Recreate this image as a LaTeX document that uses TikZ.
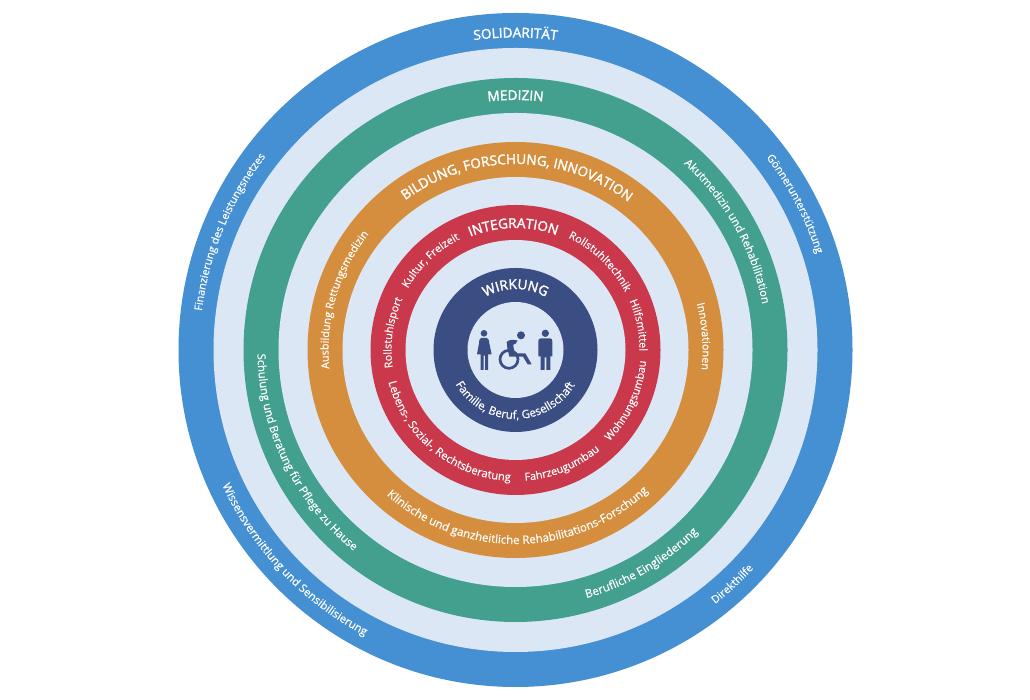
\documentclass[tikz,border=0pt]{standalone}
\usepackage{fontspec}
\setmainfont[FakeBold=0.35]{Open Sans}
\newfontfamily\capfam[FakeBold=2]{Open Sans}
\usetikzlibrary{decorations.text}
\definecolor{ringblue}{HTML}{458FD3}
\definecolor{ringlight}{HTML}{DCE7F6}
\definecolor{ringgreen}{HTML}{43A08F}
\definecolor{ringorange}{HTML}{D48E3E}
\definecolor{ringred}{HTML}{C9394B}
\definecolor{ringnavy}{HTML}{3A4E83}
\newcommand{\smallfont}{\fontsize{10.8}{12}\selectfont}
\newcommand{\widefont}{\fontsize{11.2}{12}\selectfont}
\newcommand{\widerfont}{\fontsize{11.5}{12}\selectfont}
\newcommand{\capsfont}{\capfam\fontsize{13.6}{15}\selectfont}
% cw: reads clockwise; #1 radius, #2 centre angle, #3 font, #4 text
\newcommand{\cwtext}[4]{%
  \path[decorate,decoration={text along path,text color=white,text align=center,
    text={|#3|#4}}]
    (C) ++({#2+75}:#1) arc[start angle={#2+75},end angle={#2-75},radius=#1];}
\newcommand{\ccwtext}[4]{%
  \path[decorate,decoration={text along path,text color=white,text align=center,
    text={|#3|#4}}]
    (C) ++({#2-75}:#1) arc[start angle={#2-75},end angle={#2+75},radius=#1];}
\tikzset{iconfill/.style={fill=ringnavy,draw=none}}
\begin{document}
\begin{tikzpicture}[x=1pt,y=1pt]
\useasboundingbox (0,0) rectangle (1030,700);
\fill[white] (0,0) rectangle (1030,700);
\coordinate (C) at (515.5,350);
\foreach \r/\c in {337/ringblue,302/ringlight,272/ringgreen,237/ringlight,208/ringorange,173/ringlight,145/ringred,110/ringlight,82/ringnavy,48/ringlight}
  \fill[\c] (C) circle[radius=\r];
% blue ring
\cwtext{312.5}{90}{\capsfont}{SOLIDARITÄT}
\cwtext{316}{157.6}{\smallfont}{Finanzierung des Leistungsnetzes}
\cwtext{316}{27.6}{\smallfont}{Gönnerunterstützung}
\ccwtext{323}{-47.2}{\smallfont}{Direkthilfe}
\ccwtext{323}{223.5}{\widefont}{Wissensvermittlung und Sensibilisierung}
% green ring
\cwtext{250}{90}{\capsfont}{MEDIZIN}
\cwtext{251}{29.2}{\widefont}{Akutmedizin und Rehabilitation}
\ccwtext{258}{206}{\widefont}{Schulung und Beratung für Pflege zu Hause}
\ccwtext{258}{-59.5}{\widerfont}{Berufliche Eingliederung}
% orange ring
\cwtext{186}{89.5}{\capsfont}{BILDUNG, FORSCHUNG, INNOVATION}
\cwtext{187}{163.7}{\smallfont}{Ausbildung Rettungsmedizin}
\cwtext{187}{4.15}{\smallfont}{Innovationen}
\ccwtext{194}{270.8}{\widerfont}{Klinische und ganzheitliche Rehabilitations-Forschung}
% red ring
\cwtext{122}{91}{\capsfont}{INTEGRATION}
\cwtext{124}{133.5}{\smallfont}{Kultur, Freizeit}
\cwtext{124}{172}{\smallfont}{Rollstuhlsport}
\cwtext{124}{46.3}{\smallfont}{Rollstuhltechnik}
\cwtext{124}{11.4}{\smallfont}{Hilfsmittel}
\ccwtext{131}{-24.5}{\smallfont}{Wohnungsumbau}
\ccwtext{131}{-67.9}{\smallfont}{Fahrzeugumbau}
\ccwtext{131}{231}{\widefont}{Lebens-, Sozial-, Rechtsberatung}
% navy ring
\cwtext{61}{90}{\capsfont}{WIRKUNG}
\ccwtext{69}{269.6}{\widerfont}{Familie, Beruf, Gesellschaft}
% figures
\begin{scope}[shift={(470,380)},x=0.3333pt,y=-0.3333pt]
  % woman
  \fill[iconfill] (42,40) circle[radius=10];
  \fill[iconfill] (33,54) -- (51,54) .. controls (56,56) and (58,62) .. (58,70)
     -- (65,103) -- (54,103) -- (54,150) -- (45,150) -- (45,107) -- (41,107) -- (41,150)
     -- (32,150) -- (32,103) -- (21,103) -- (27,70) .. controls (27,62) and (28,56) .. (33,54) -- cycle;
  % wheelchair
  \fill[iconfill] (153,46) circle[radius=12];
  \draw[ringnavy,line width=2.7pt] (117,118) circle[radius=27];
  \fill[iconfill] (110,66) .. controls (118,58) and (132,58) .. (143,62)
     -- (136,72) .. controls (131,71) and (129,74) .. (130,78) -- (134,100) -- (166,100)
     -- (185,133) -- (173,133) -- (159,110) -- (118,110) -- (112,84) -- cycle;
  % man
  \fill[iconfill] (226,40) circle[radius=11];
  \fill[iconfill] (212,55) -- (240,55) .. controls (245,55) and (247,59) .. (247,64)
     -- (247,109) -- (241,109) -- (241,150) -- (229,150) -- (229,112) -- (224,112)
     -- (224,150) -- (212,150) -- (212,109) -- (205,109) -- (205,64)
     .. controls (205,59) and (207,55) .. (212,55) -- cycle;
\end{scope}
\end{tikzpicture}
\end{document}
